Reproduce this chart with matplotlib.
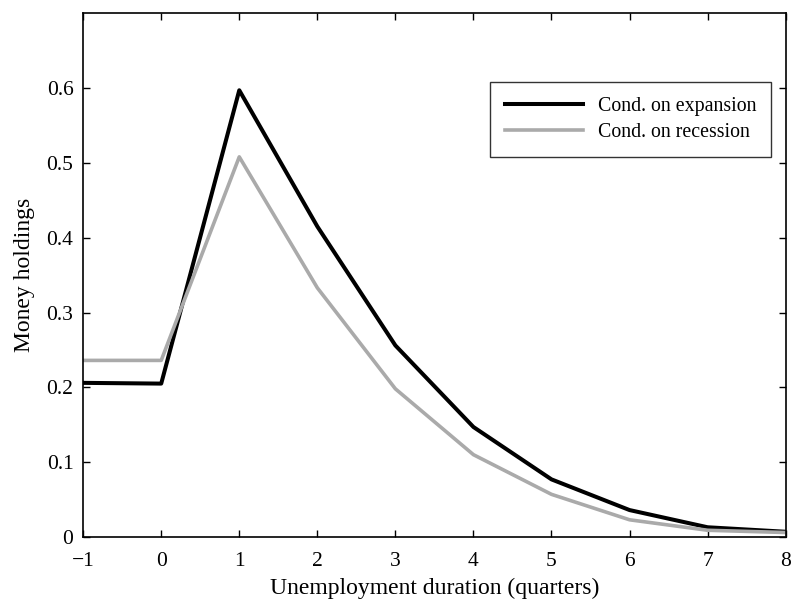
import numpy as np
import matplotlib
matplotlib.use('Agg')
import matplotlib.pyplot as plt

# Data
quarters = [-1, 0, 1, 2, 3, 4, 5, 6, 7, 8]
expansion = [0.206, 0.205, 0.597, 0.415, 0.256, 0.147, 0.077, 0.036, 0.013, 0.007]
recession = [0.236, 0.236, 0.508, 0.333, 0.198, 0.110, 0.057, 0.023, 0.009, 0.006]
labels = ['Cond. on expansion', 'Cond. on recession']

plt.rcParams['font.family'] = ['Liberation Serif', 'DejaVu Serif']

fig = plt.figure(figsize=(7.92, 6.0), dpi=100)
ax = fig.add_axes([0.105, 0.105, 0.887, 0.873])

ax.plot(quarters, expansion, color='black', lw=2.9, label=labels[0])
ax.plot(quarters, recession, color='#aaaaaa', lw=2.6, label=labels[1])

ax.set_xlim(-1, 8)
ax.set_ylim(0, 0.7)
ax.set_xticks(range(-1, 9))
ax.set_xticklabels(['\u22121'] + [str(i) for i in range(0, 9)])
ax.set_yticks([0, 0.1, 0.2, 0.3, 0.4, 0.5, 0.6])
ax.set_yticklabels(['0', '0.1', '0.2', '0.3', '0.4', '0.5', '0.6'])
ax.tick_params(direction='in', length=5, width=1, top=True, right=True,
               labelsize=15.5)
ax.tick_params(axis='x', pad=11)
ax.tick_params(axis='y', pad=7)
for s in ax.spines.values():
    s.set_linewidth(1.2)

ax.set_xlabel('Unemployment duration (quarters)', fontsize=17, labelpad=5)
ax.set_ylabel('Money holdings', fontsize=17, labelpad=8)

leg = ax.legend(loc='upper right', bbox_to_anchor=(0.979, 0.868), fontsize=14.3,
                frameon=True, fancybox=False, edgecolor='black', handlelength=3.9,
                borderpad=0.75, labelspacing=0.35, handletextpad=0.75,
                borderaxespad=0)
leg.get_frame().set_linewidth(1.0)

fig.savefig('out.png', dpi=100)
